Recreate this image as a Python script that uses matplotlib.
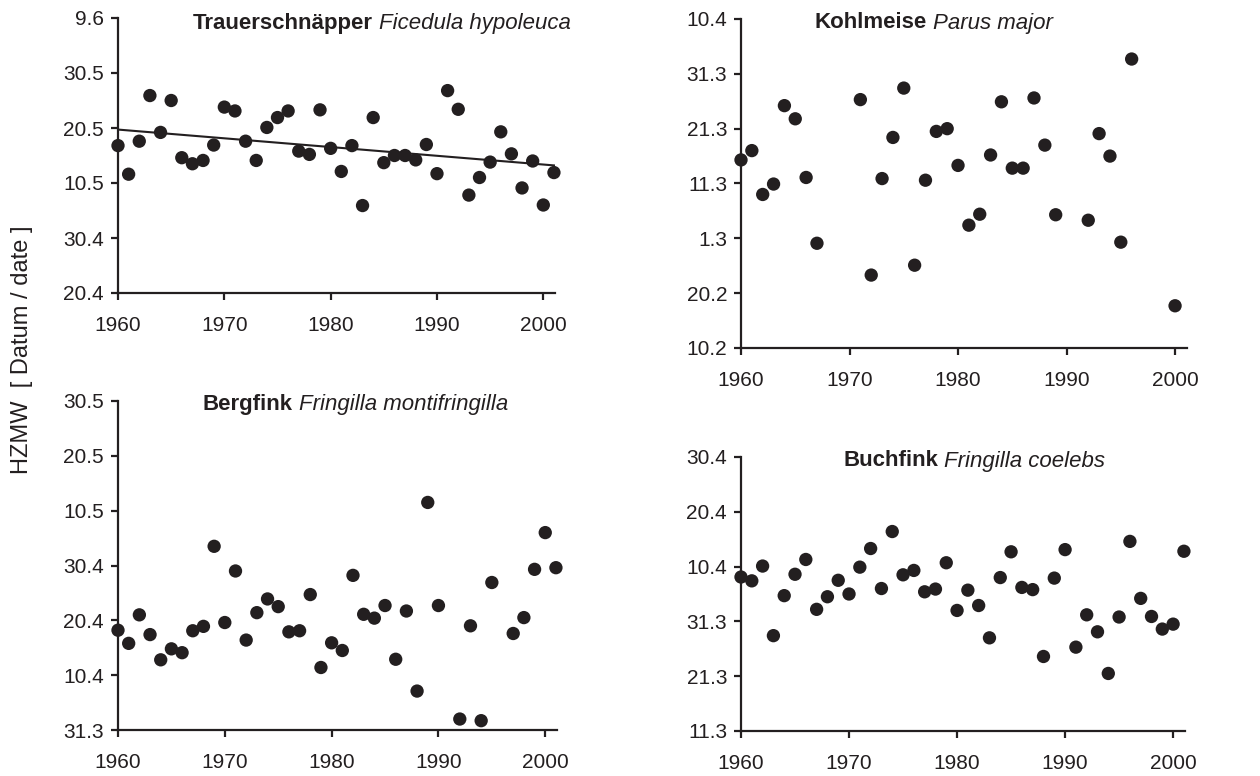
import numpy as np
import matplotlib
matplotlib.use("Agg")
from matplotlib import pyplot as plt

plt.rcParams['font.family'] = ['Liberation Sans', 'DejaVu Sans']

# day numbers (Excel style, 1 = 1 Jan, leap-year calendar)
# Trauerschnaepper
years_1 = list(range(1960, 2002))
days_1 = [137.8, 132.6, 138.6, 146.9, 140.2, 146.0, 135.6, 134.5, 135.1, 137.9,
          144.8, 144.1, 138.6, 135.1, 141.1, 142.9, 144.1, 136.8, 136.2, 144.3,
          137.3, 133.1, 137.8, 126.9, 142.9, 134.7, 136.0, 136.0, 135.2, 138.0,
          132.7, 147.8, 144.4, 128.8, 132.0, 134.8, 140.3, 136.3, 130.1, 135.0,
          127.0, 132.9]
ticks_1 = [111, 121, 131, 141, 151, 161]
labels_1 = ['20.4', '30.4', '10.5', '20.5', '30.5', '9.6']

# Kohlmeise
years_2 = [1960, 1961, 1962, 1963, 1964, 1965, 1966, 1967, 1971, 1972, 1973,
           1974, 1975, 1976, 1977, 1978, 1979, 1980, 1981, 1982, 1983, 1984,
           1985, 1986, 1987, 1988, 1989, 1992, 1993, 1994, 1995, 1996, 2000]
days_2 = [75.3, 77.0, 69.0, 70.9, 85.2, 82.8, 72.1, 60.1, 86.3, 54.3, 71.9,
          79.4, 88.4, 56.1, 71.6, 80.5, 81.0, 74.3, 63.4, 65.4, 76.2, 85.9,
          73.8, 73.8, 86.6, 78.0, 65.3, 64.3, 80.1, 76.0, 60.3, 93.7, 48.7]
ticks_2 = [41, 51, 61, 71, 81, 91, 101]
labels_2 = ['10.2', '20.2', '1.3', '11.3', '21.3', '31.3', '10.4']

# Bergfink
years_3 = [y for y in range(1960, 2002) if y not in (1991, 1996)]
days_3 = [109.2, 106.8, 112.0, 108.4, 103.8, 105.8, 105.1, 109.1, 109.9, 124.5,
          110.6, 120.0, 107.4, 112.4, 114.9, 113.5, 108.9, 109.1, 115.7, 102.4,
          106.9, 105.5, 119.2, 112.1, 111.4, 113.7, 103.9, 112.7, 98.1, 132.5,
          113.7, 93.0, 110.0, 92.7, 117.9, 108.6, 111.5, 120.3, 127.0, 120.6]
ticks_3 = [91, 101, 111, 121, 131, 141, 151]
labels_3 = ['31.3', '10.4', '20.4', '30.4', '10.5', '20.5', '30.5']

# Buchfink
years_4 = list(range(1960, 2002))
days_4 = [99.1, 98.4, 101.1, 88.4, 95.7, 99.6, 102.3, 93.2, 95.5, 98.5,
          96.0, 100.9, 104.3, 97.0, 107.4, 99.5, 100.3, 96.4, 96.9, 101.7,
          93.0, 96.7, 93.9, 88.0, 99.0, 103.7, 97.2, 96.8, 84.6, 98.9,
          104.1, 86.3, 92.2, 89.1, 81.5, 91.8, 105.6, 95.2, 91.9, 89.6,
          90.5, 103.8]
ticks_4 = [71, 81, 91, 101, 111, 121]
labels_4 = ['11.3', '21.3', '31.3', '10.4', '20.4', '30.4']

names_de = ['Trauerschnäpper', 'Kohlmeise', 'Bergfink', 'Buchfink']
names_lat = ['Ficedula hypoleuca', 'Parus major', 'Fringilla montifringilla',
             'Fringilla coelebs']
year_ticks = [1960, 1970, 1980, 1990, 2000]

dark = '#231f20'
W, H = 1260, 776
fig = plt.figure(figsize=(W / 100, H / 100), dpi=100)

# panel boxes in pixels: left, top, right, bottom
boxes = [(118, 18, 555, 293), (741, 19, 1187, 348),
         (118, 401, 557, 730), (741, 457, 1185, 731)]
title_pos = [(193, 23), (815, 23), (203, 404), (844, 461)]

panels = [(years_1, days_1, ticks_1, labels_1),
          (years_2, days_2, ticks_2, labels_2),
          (years_3, days_3, ticks_3, labels_3),
          (years_4, days_4, ticks_4, labels_4)]

for i, (yrs, dys, tks, lbls) in enumerate(panels):
    l, t, r, b = boxes[i]
    ax = fig.add_axes([l / W, 1 - b / H, (r - l) / W, (b - t) / H])
    ax.scatter(yrs, dys, s=92, c=dark, edgecolors='none', zorder=5, clip_on=False)
    if i == 0:
        # linear trend for the Trauerschnaepper
        k, d = np.polyfit(yrs, dys, 1)
        xx = np.array([yrs[0], yrs[-1]])
        ax.plot(xx, k * xx + d, color=dark, lw=1.5, zorder=4)
    ax.set_xlim(1960, 2001.1)
    ax.set_ylim(tks[0], tks[-1])
    ax.set_yticks(tks)
    ax.set_yticklabels(lbls)
    ax.set_xticks(year_ticks)
    for s in ['top', 'right']:
        ax.spines[s].set_visible(False)
    for s in ['left', 'bottom']:
        ax.spines[s].set_color(dark)
        ax.spines[s].set_linewidth(1.6)
    ax.tick_params(direction='out', length=5, width=1.6, color=dark,
                   labelsize=15, labelcolor=dark)
    ax.tick_params(axis='y', pad=5)
    ax.tick_params(axis='x', pad=11.5)
    ax.patch.set_visible(False)

    tx, ty = title_pos[i]
    t1 = fig.text(tx / W, 1 - ty / H, names_de[i], fontsize=16, fontweight='bold',
                  color=dark, ha='left', va='center')
    ax.annotate(names_lat[i], xy=(1, 0), xycoords=t1, xytext=(4, 0),
                textcoords='offset points', fontsize=16, style='italic',
                color=dark, ha='left', va='bottom', annotation_clip=False)

fig.text(22 / W, 1 - 350 / H, 'HZMW  [ Datum / date ]', rotation=90,
         fontsize=17, color=dark, ha='center', va='center')

fig.savefig('out.png', dpi=100)
